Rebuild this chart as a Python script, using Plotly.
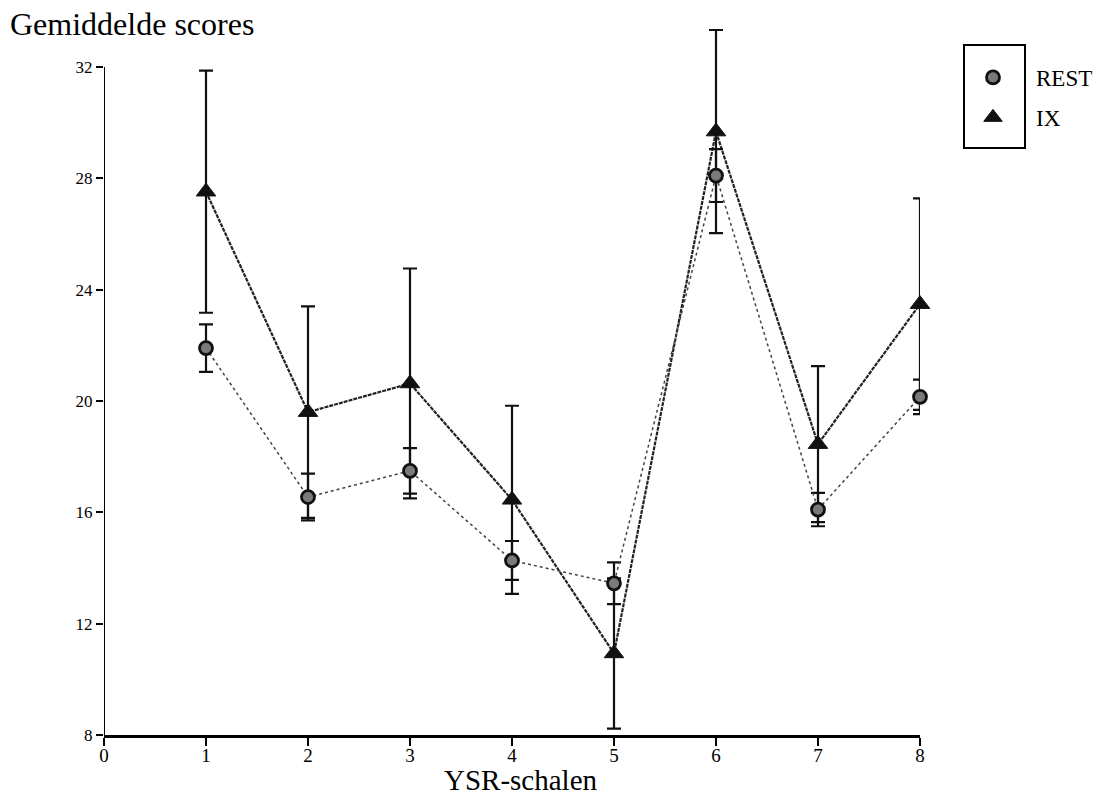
import plotly.graph_objects as go

# Data
scales = [1, 2, 3, 4, 5, 6, 7, 8]
rest_mean = [21.9, 16.55, 17.49, 14.27, 13.45, 28.1, 16.1, 20.15]
rest_err = [0.85, 0.84, 0.82, 0.7, 0.75, 0.95, 0.6, 0.62]
ix_mean = [27.52, 19.6, 20.63, 16.45, 10.93, 29.68, 18.45, 23.48]
ix_err = [4.35, 3.8, 4.13, 3.38, 2.7, 3.65, 2.8, 3.8]
x_ticks = [0, 1, 2, 3, 4, 5, 6, 7, 8]
y_ticks = [8, 12, 16, 20, 24, 28, 32]
series_names = ["REST", "IX"]

FONT = "Liberation Serif, Times New Roman, serif"

# Layout geometry (pixels)
W, H = 1103, 796
L, R = 104, 920          # x=0 .. x=8
Y_BOT, Y_TOP = 735, 67   # y=8 .. y=32
T = 22                   # top margin leaves room for error bars above 32
unit = (Y_BOT - Y_TOP) / (y_ticks[-1] - y_ticks[0])
y_max = y_ticks[0] + (Y_BOT - T) / unit

REST_MARK = dict(symbol="circle", size=13, color="#7a7a7a",
                 line=dict(color="#111111", width=2.8))
IX_MARK = dict(symbol="triangle-up", size=17, color="#111111",
               line=dict(color="#111111", width=1))

fig = go.Figure()

fig.add_trace(go.Scatter(
    x=scales, y=ix_mean, name="IX", showlegend=False,
    mode="lines+markers",
    line=dict(color="#222222", width=2.2, dash="4px,1px"),
    marker=IX_MARK,
    error_y=dict(type="data", array=ix_err, visible=True,
                 color="#111111", thickness=2.2, width=7),
    cliponaxis=False,
))

fig.add_trace(go.Scatter(
    x=scales, y=rest_mean, name="REST", showlegend=False,
    mode="lines+markers",
    line=dict(color="#444444", width=1.5, dash="dot"),
    marker=REST_MARK,
    error_y=dict(type="data", array=rest_err, visible=True,
                 color="#111111", thickness=2.2, width=7),
    cliponaxis=False,
))

# legend-only entries (marker only, like the reference)
fig.add_trace(go.Scatter(x=[None], y=[None], mode="markers", name=series_names[0],
                         legendgroup="rest", marker=REST_MARK))
fig.add_trace(go.Scatter(x=[None], y=[None], mode="markers", name=series_names[1],
                         legendgroup="ix", marker=IX_MARK))

# y axis line only from 8 to 32
fig.add_shape(type="line", xref="x", yref="y", x0=0, x1=0,
              y0=y_ticks[0], y1=y_ticks[-1], line=dict(color="black", width=2))

# legend box (decoration)
fig.add_shape(type="rect", xref="paper", yref="paper",
              x0=(964 - L) / (R - L), x1=(1025 - L) / (R - L),
              y0=(Y_BOT - 148) / (Y_BOT - T), y1=(Y_BOT - 45) / (Y_BOT - T),
              line=dict(color="black", width=2), fillcolor="rgba(0,0,0,0)")

fig.add_annotation(text="YSR-schalen", xref="paper", yref="paper",
                   x=(521 - L) / (R - L), y=(Y_BOT - 780) / (Y_BOT - T),
                   xanchor="center", yanchor="middle",
                   showarrow=False, font=dict(family=FONT, size=29, color="black"))

fig.update_layout(
    width=W, height=H,
    margin=dict(l=L, r=W - R, t=T, b=H - Y_BOT, autoexpand=False),
    paper_bgcolor="white", plot_bgcolor="white",
    font=dict(family=FONT, color="black"),
    title=dict(text="Gemiddelde scores", xref="container", yref="container",
               x=10 / W, xanchor="left", y=1 - 24 / H, yanchor="middle",
               pad=dict(l=0, r=0, t=0, b=0),
               font=dict(family=FONT, size=32, color="black")),
    showlegend=True,
    legend=dict(xref="container", yref="container",
                x=950 / W, xanchor="left", y=1 - 56 / H, yanchor="top",
                itemwidth=76, tracegroupgap=7,
                bgcolor="rgba(0,0,0,0)", borderwidth=0,
                font=dict(family=FONT, size=23, color="black")),
    xaxis=dict(range=[0, 8], tickvals=x_ticks, ticktext=[str(v) for v in x_ticks],
               showgrid=False, zeroline=False, showline=True, linecolor="black",
               linewidth=2.5, ticks="outside", ticklen=8, tickwidth=2, tickcolor="black",
               automargin=False, ticklabelstandoff=-7,
               tickfont=dict(family=FONT, size=19, color="black")),
    yaxis=dict(range=[y_ticks[0], y_max], tickvals=y_ticks,
               ticktext=[str(v) for v in y_ticks],
               showgrid=False, zeroline=False, showline=False,
               ticks="outside", ticklen=7, tickwidth=2, tickcolor="black",
               automargin=False,
               tickfont=dict(family=FONT, size=17, color="black")),
)

fig.write_html("out.html",
               config={"displayModeBar": False},
               post_script="document.body.style.margin='0';document.body.style.padding='0';")
